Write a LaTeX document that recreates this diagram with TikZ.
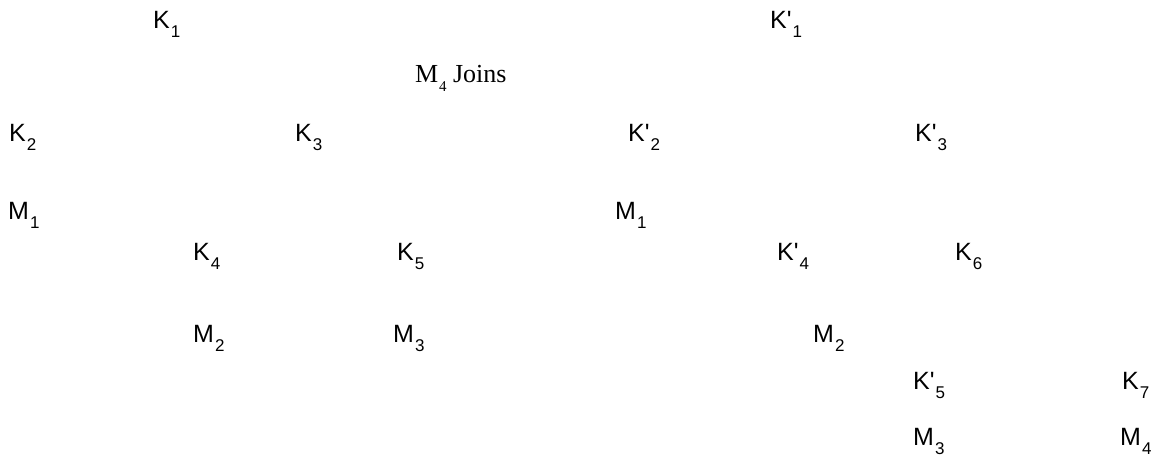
\documentclass[tikz,border=0pt]{standalone}
\usepackage{fontspec}
\newfontfamily\labfont{Liberation Sans}
\newfontfamily\serfont{Liberation Serif}
\newcommand\lsub[1]{\hspace{0.04em}\raisebox{-0.36em}{\fontsize{17}{17}\selectfont #1}}
\newcommand\ssub[1]{\hspace{0.03em}\raisebox{-0.38em}{\fontsize{15}{15}\selectfont #1}}
\begin{document}
\begin{tikzpicture}[x=1pt,y=-1pt,
  lbl/.style={anchor=base west,inner sep=0pt,font=\labfont\fontsize{25}{25}\selectfont},
  sertext/.style={anchor=base west,inner sep=0pt,font=\serfont\fontsize{26}{26}\selectfont}]
\useasboundingbox (0,0) rectangle (1156,475);
% left tree
\node[lbl] (k1) at (153,28) {K\lsub{1}};
\node[sertext] (join) at (415,82) {M\ssub{4} Joins};
\node[lbl] (k2) at (9,141) {K\lsub{2}};
\node[lbl] (k3) at (295,141) {K\lsub{3}};
\node[lbl] (m1a) at (8,219) {M\lsub{1}};
\node[lbl] (k4) at (193,260) {K\lsub{4}};
\node[lbl] (k5) at (397,260) {K\lsub{5}};
\node[lbl] (m2a) at (193,342) {M\lsub{2}};
\node[lbl] (m3a) at (393,342) {M\lsub{3}};
% right tree
\node[lbl] (kp1) at (770,28) {K'\lsub{1}};
\node[lbl] (kp2) at (628,141) {K'\lsub{2}};
\node[lbl] (kp3) at (915,141) {K'\lsub{3}};
\node[lbl] (m1b) at (615,219) {M\lsub{1}};
\node[lbl] (kp4) at (777,260) {K'\lsub{4}};
\node[lbl] (k6) at (955,260) {K\lsub{6}};
\node[lbl] (m2b) at (813,342) {M\lsub{2}};
\node[lbl] (kp5) at (913,389) {K'\lsub{5}};
\node[lbl] (k7) at (1122,389) {K\lsub{7}};
\node[lbl] (m3b) at (913,445) {M\lsub{3}};
\node[lbl] (m4b) at (1120,445) {M\lsub{4}};
\end{tikzpicture}
\end{document}
